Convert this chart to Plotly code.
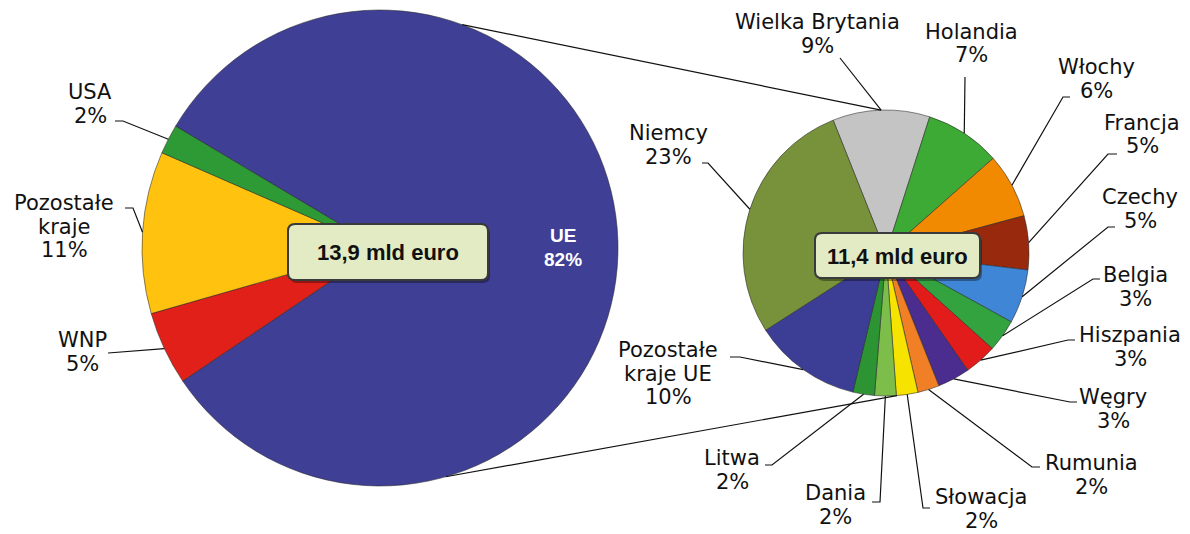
import math
import plotly.graph_objects as go

W, H = 1190, 534

# ---------------- data ----------------
left_labels = ["UE", "WNP", "Pozostałe kraje", "USA"]
left_values = [82, 5, 11, 2]
left_colors = ["#3E3F95", "#E2201A", "#FFC20E", "#2E9A35"]
left_text_lines = {
    "UE": ["UE"],
    "WNP": ["WNP"],
    "Pozostałe kraje": ["Pozostałe", "kraje"],
    "USA": ["USA"],
}

right_labels = ["Wielka Brytania", "Holandia", "Włochy", "Francja", "Czechy",
                "Belgia", "Hiszpania", "Węgry", "Rumunia", "Słowacja", "Dania",
                "Litwa", "Pozostałe kraje UE", "Niemcy"]
right_values = [9, 7, 6, 5, 5, 3, 3, 3, 2, 2, 2, 2, 10, 23]
right_colors = ["#C4C4C4", "#3DAA35", "#F18A00", "#98290C", "#3F86D6",
                "#33A340", "#E21B1B", "#4A2D8F", "#F07F26", "#F6E400",
                "#7DBE4A", "#2D9434", "#3C3D95", "#77923A"]
right_text_lines = {
    "Pozostałe kraje UE": ["Pozostałe", "kraje UE"],
}

left_total_label = "13,9 mld euro"
right_total_label = "11,4 mld euro"

# ---------------- layout geometry (pixels) ----------------
L_CX, L_CY, L_R, L_ROT = 380, 248, 238, -59.2
R_CX, R_CY, R_R, R_ROT = 886, 253, 143, -21.7
LINE_H = 23.5


def px(x):
    return x / W


def py(y):
    return 1 - y / H


def mid_angles(values, rot):
    tot = sum(values)
    out, acc = [], rot
    for v in values:
        a = v / tot * 360
        out.append(acc + a / 2)
        acc += a
    return out


def rim(cx, cy, r, ang):
    t = math.radians(ang)
    return cx + r * math.sin(t), cy - r * math.cos(t)


fig = go.Figure()
fig.add_trace(go.Pie(
    labels=left_labels, values=left_values, sort=False, direction="clockwise",
    rotation=L_ROT, textinfo="none", hoverinfo="label+percent",
    marker=dict(colors=left_colors, line=dict(color="rgba(40,40,40,0.55)", width=1)),
    domain=dict(x=[px(L_CX - L_R), px(L_CX + L_R)], y=[py(L_CY + L_R), py(L_CY - L_R)]),
    showlegend=False,
))
fig.add_trace(go.Pie(
    labels=right_labels, values=right_values, sort=False, direction="clockwise",
    rotation=R_ROT, textinfo="none", hoverinfo="label+value",
    marker=dict(colors=right_colors, line=dict(color="rgba(40,40,40,0.55)", width=1)),
    domain=dict(x=[px(R_CX - R_R), px(R_CX + R_R)], y=[py(R_CY + R_R), py(R_CY - R_R)]),
    showlegend=False,
))

# label placement: (center x, first line y, leader start x, leader y, knee x)
left_place = {
    "USA": (90, 92, 115, 121, 123),
    "Pozostałe kraje": (64, 203, 125, 208, 133),
    "WNP": (82, 340, 108, 353, 108),
}
right_place = {
    "Wielka Brytania": (817, 22, 840, 58, 840),
    "Holandia": (971, 32, 965, 77, 965),
    "Włochy": (1096, 67, 1070, 97, 1063),
    "Francja": (1142, 123, 1117, 154, 1108),
    "Czechy": (1140, 197, 1115, 227, 1108),
    "Belgia": (1135, 275, 1100, 279, 1093),
    "Hiszpania": (1130, 335, 1075, 340, 1068),
    "Węgry": (1113, 397, 1077, 402, 1070),
    "Rumunia": (1091, 463, 1040, 467, 1032),
    "Słowacja": (981, 497, 930, 508, 923),
    "Dania": (836, 493, 872, 502, 880),
    "Litwa": (732, 458, 765, 465, 772),
    "Pozostałe kraje UE": (668, 350, 730, 357, 740),
    "Niemcy": (668, 133, 702, 163, 708),
}

FONT = "DejaVu Sans, Liberation Sans, Arial, sans-serif"
BOLD_FONT = "Liberation Sans, Arial, sans-serif"
shapes, annotations = [], []


def add_label(lines, cx, y0, color="#111111", size=21, bold=False):
    for i, t in enumerate(lines):
        annotations.append(dict(
            x=px(cx), y=py(y0 + i * LINE_H), xref="paper", yref="paper",
            text=f"<b>{t}</b>" if bold else t, showarrow=False,
            xanchor="center", yanchor="middle",
            font=dict(family=BOLD_FONT if bold else FONT, size=size, color=color)))


def add_leader(sx, sy, kx, rx, ry):
    path = f"M {px(sx)} {py(sy)} L {px(kx)} {py(sy)} L {px(rx)} {py(ry)}"
    shapes.append(dict(type="path", xref="paper", yref="paper", path=path,
                       line=dict(color="#111111", width=1.2), layer="above"))


lm = mid_angles(left_values, L_ROT)
for lab, val, ang in zip(left_labels, left_values, lm):
    lines = left_text_lines.get(lab, [lab]) + [f"{val}%"]
    if lab == "UE":
        add_label(lines, 563, 236, color="white", size=19, bold=True)
        continue
    cx, y0, sx, sy, kx = left_place[lab]
    add_label(lines, cx, y0)
    rx, ry = rim(L_CX, L_CY, L_R, ang)
    add_leader(sx, sy, kx, rx, ry)

rm = mid_angles(right_values, R_ROT)
for lab, val, ang in zip(right_labels, right_values, rm):
    lines = right_text_lines.get(lab, [lab]) + [f"{val}%"]
    cx, y0, sx, sy, kx = right_place[lab]
    add_label(lines, cx, y0)
    rx, ry = rim(R_CX, R_CY, R_R, ang)
    add_leader(sx, sy, kx, rx, ry)

# connector lines between the two pies
for a_left, a_right in [(20.2, -2.0), (164.0, 175.6)]:
    x1, y1 = rim(L_CX, L_CY, L_R, a_left)
    x2, y2 = rim(R_CX, R_CY, R_R, a_right)
    shapes.append(dict(type="line", xref="paper", yref="paper",
                       x0=px(x1), y0=py(y1), x1=px(x2), y1=py(y2),
                       line=dict(color="#111111", width=1.2), layer="above"))


def rounded_rect(x0, y0, x1, y1, r):
    pts = [
        f"M {px(x0 + r)} {py(y0)}",
        f"L {px(x1 - r)} {py(y0)}",
        f"Q {px(x1)} {py(y0)} {px(x1)} {py(y0 + r)}",
        f"L {px(x1)} {py(y1 - r)}",
        f"Q {px(x1)} {py(y1)} {px(x1 - r)} {py(y1)}",
        f"L {px(x0 + r)} {py(y1)}",
        f"Q {px(x0)} {py(y1)} {px(x0)} {py(y1 - r)}",
        f"L {px(x0)} {py(y0 + r)}",
        f"Q {px(x0)} {py(y0)} {px(x0 + r)} {py(y0)}",
        "Z",
    ]
    return " ".join(pts)


for (x0, y0, x1, y1), label in [((288, 224, 488, 280), left_total_label),
                                ((815, 233, 980, 278), right_total_label)]:
    shapes.append(dict(type="path", xref="paper", yref="paper",
                       path=rounded_rect(x0 + 2, y0 + 3, x1 + 2, y1 + 3, 7),
                       fillcolor="rgba(0,0,0,0.35)", line=dict(width=0), layer="above"))
    shapes.append(dict(type="path", xref="paper", yref="paper",
                       path=rounded_rect(x0, y0, x1, y1, 7),
                       fillcolor="#E3EBC4", line=dict(color="#3A3A3A", width=2), layer="above"))
    annotations.append(dict(x=px((x0 + x1) / 2), y=py((y0 + y1) / 2 + 1), xref="paper", yref="paper",
                            text=f"<b>{label}</b>", showarrow=False,
                            xanchor="center", yanchor="middle",
                            font=dict(family=BOLD_FONT, size=22, color="#111111")))

fig.update_layout(
    width=W, height=H, autosize=False,
    margin=dict(l=0, r=0, t=0, b=0),
    paper_bgcolor="white", plot_bgcolor="white",
    shapes=shapes, annotations=annotations,
)

fig.write_html("out.html", config={"displayModeBar": False},
               post_script="document.body.style.margin='0';document.body.style.overflow='hidden';")
